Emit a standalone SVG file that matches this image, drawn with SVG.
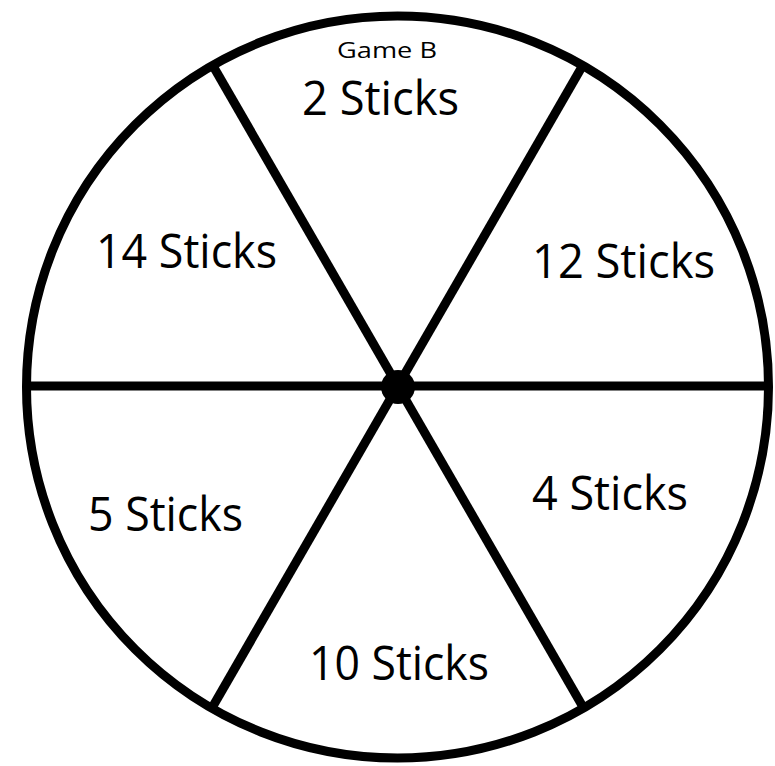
<svg xmlns="http://www.w3.org/2000/svg" width="775" height="766" viewBox="0 0 775 766">
<style>
.rim{fill:none;stroke:#000;stroke-width:9}
.sp{stroke:#000;stroke-width:9;stroke-linecap:butt}
.lbl{font-family:"Open Sans","Liberation Sans",sans-serif;font-size:48px;fill:#000}
.sm{font-family:"Open Sans","Liberation Sans",sans-serif;font-size:21px;fill:#000}
</style>
<rect width="775" height="766" fill="#fff"/>
<g id="wheel">
<circle class="rim" cx="397.5" cy="387" r="371"/>
</g>
<g id="connectors">
<line class="sp" x1="26" y1="386" x2="769" y2="386"/>
<line class="sp" x1="212.5" y1="65" x2="583" y2="707"/>
<line class="sp" x1="583" y1="65" x2="212.5" y2="707"/>
</g>
<g id="hub"><circle cx="398" cy="387" r="17" fill="#000"/></g>
<g id="seg-top">
<text class="sm" x="387" y="58" text-anchor="middle" textLength="100" lengthAdjust="spacingAndGlyphs">Game B</text>
<text class="lbl" x="302" y="115" textLength="157" lengthAdjust="spacingAndGlyphs">2 Sticks</text>
</g>
<g id="seg-14"><text class="lbl" x="96" y="268" textLength="181" lengthAdjust="spacingAndGlyphs">14 Sticks</text></g>
<g id="seg-12"><text class="lbl" x="532" y="278" textLength="183" lengthAdjust="spacingAndGlyphs">12 Sticks</text></g>
<g id="seg-5"><text class="lbl" x="88" y="531" textLength="155" lengthAdjust="spacingAndGlyphs">5 Sticks</text></g>
<g id="seg-4"><text class="lbl" x="532" y="510" textLength="156" lengthAdjust="spacingAndGlyphs">4 Sticks</text></g>
<g id="seg-10"><text class="lbl" x="309" y="680" textLength="180" lengthAdjust="spacingAndGlyphs">10 Sticks</text></g>
</svg>
